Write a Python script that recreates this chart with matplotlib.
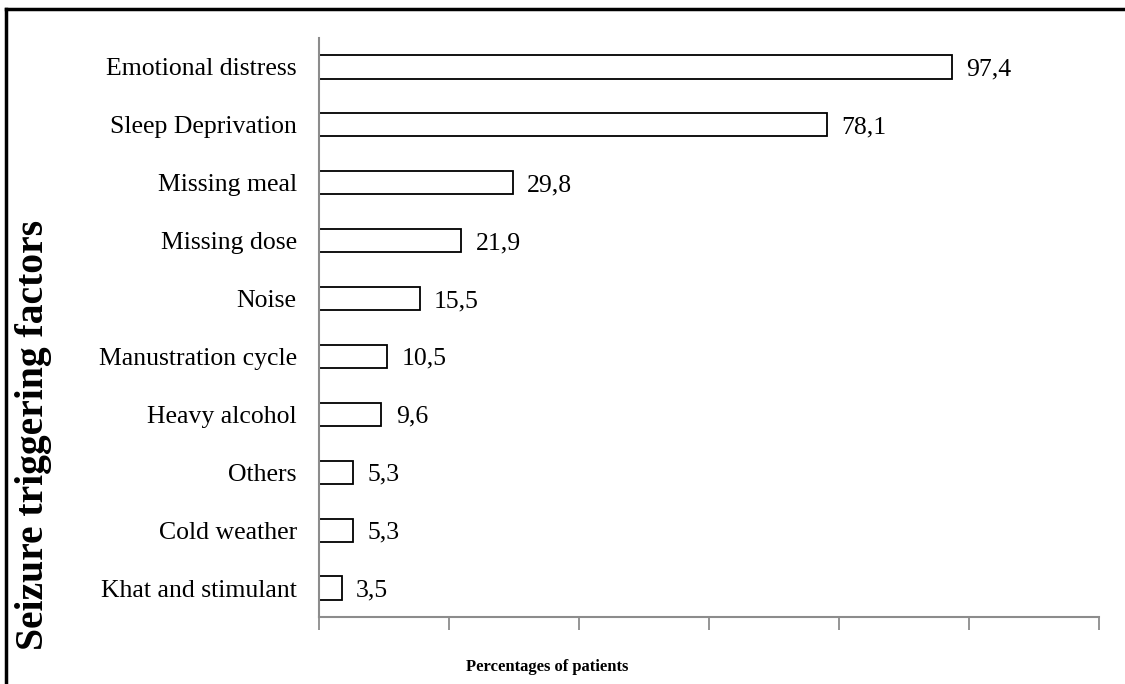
import matplotlib
matplotlib.use("Agg")
import matplotlib.pyplot as plt
from matplotlib.lines import Line2D

categories = ["Emotional distress", "Sleep Deprivation", "Missing meal", "Missing dose",
              "Noise", "Manustration cycle", "Heavy alcohol", "Others", "Cold weather",
              "Khat and stimulant"]
values = [97.4, 78.1, 29.8, 21.9, 15.5, 10.5, 9.6, 5.3, 5.3, 3.5]
value_labels = ["97,4", "78,1", "29,8", "21,9", "15,5", "10,5", "9,6", "5,3", "5,3", "3,5"]
x_ticks = [0, 20, 40, 60, 80, 100, 120]

plt.rcParams['font.family'] = ['Liberation Serif', 'DejaVu Serif']

fig = plt.figure(figsize=(11.25, 6.84), dpi=100)
ax = fig.add_axes([319/1125, 1-617/684, (1099-319)/1125, (617-38)/684])

n = len(categories)
ypos = [n - 1 - i for i in range(n)]
ax.barh(ypos, values, height=0.4, color='white', edgecolor='black', linewidth=1.3)
for y, v, lab in zip(ypos, values, value_labels):
    ax.text(v + 2.2, y, lab, va='center_baseline', ha='left', fontsize=18.5)

ax.set_xlim(0, 120)
ax.set_ylim(-0.5, n - 0.5)
ax.set_yticks(ypos)
ax.set_yticklabels(categories, fontsize=18.5, va='center_baseline')
ax.tick_params(axis='y', length=0, pad=16)
ax.set_xticks(x_ticks)
ax.set_xticklabels([])
ax.tick_params(axis='x', length=9, width=1.3, color='#8c8c8c', direction='out')
for s in ['top', 'right']:
    ax.spines[s].set_visible(False)
for s in ['left', 'bottom']:
    ax.spines[s].set_color('#8c8c8c')
    ax.spines[s].set_linewidth(1.5)

fig.text(547/1125, 1-667/684, "Percentages of patients", ha='center', va='center',
         fontsize=12, fontweight='bold')
fig.text(34/1125, 1-435/684, "Seizure triggering factors", ha='center', va='center',
         rotation=90, fontsize=28.5, fontweight='bold')

# figure frame (top and left)
fig.add_artist(Line2D([6/1125, 1.0], [1-9/684, 1-9/684], transform=fig.transFigure,
                      color='black', linewidth=2.5))
fig.add_artist(Line2D([6/1125, 6/1125], [0, 1-9/684], transform=fig.transFigure,
                      color='black', linewidth=2.5))

fig.savefig("out.png", dpi=100)
